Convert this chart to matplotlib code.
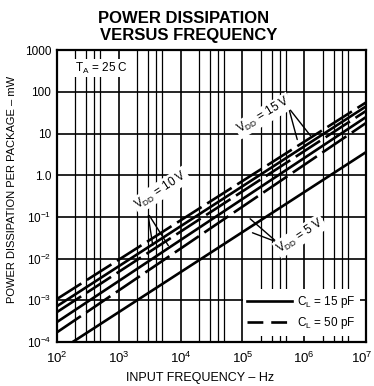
import numpy as np
import matplotlib.pyplot as plt
from matplotlib.ticker import FixedLocator, FixedFormatter, NullFormatter
from matplotlib.lines import Line2D

plt.rcParams['font.family'] = 'Liberation Sans'
plt.rcParams['mathtext.default'] = 'regular'

# line end points (f in Hz, P in mW)
f_lo = [100, 100, 100, 100, 100, 180]
f_hi = [1e7, 1e7, 1e7, 1e7, 1e7, 1e7]
p_lo = [1.07e-3, 7.2e-4, 5.2e-4, 3.0e-4, 1.7e-4, 1e-4]
p_hi = [56, 45, 35, 25, 18, 3.6]
load = ['50', '15', '50', '15', '50', '15']

ytick_vals = [1e-4, 1e-3, 1e-2, 1e-1, 1, 10, 100, 1000]
ytick_txt = ['$10^{-4}$', '$10^{-3}$', '$10^{-2}$', '$10^{-1}$', '1.0', '10', '100', '1000']
xtick_vals = [1e2, 1e3, 1e4, 1e5, 1e6, 1e7]
xtick_txt = ['$10^{2}$', '$10^{3}$', '$10^{4}$', '$10^{5}$', '$10^{6}$', '$10^{7}$']

fig = plt.figure(figsize=(3.74, 3.86), dpi=100)
ax = fig.add_axes([0.152, 0.114, 0.827, 0.756])
ax.set_xscale('log')
ax.set_yscale('log')
ax.set_xlim(1e2, 1e7)
ax.set_ylim(1e-4, 1e3)

# grid: verticals at 1,2,3,4,5 per decade, horizontals at decades
vx = [m * 10.0**k for k in range(2, 7) for m in (2, 3, 4, 5)]
ax.xaxis.set_minor_locator(FixedLocator(vx))
ax.xaxis.set_minor_formatter(NullFormatter())
ax.yaxis.set_minor_locator(FixedLocator([]))
ax.grid(True, which='major', axis='both', color='black', lw=1.2)
ax.grid(True, which='minor', axis='x', color='black', lw=0.9)

ax.yaxis.set_major_locator(FixedLocator(ytick_vals))
ax.yaxis.set_major_formatter(FixedFormatter(ytick_txt))
# last x label is drawn by hand so it stays inside the figure
ax.xaxis.set_major_locator(FixedLocator(xtick_vals))
ax.xaxis.set_major_formatter(FixedFormatter(xtick_txt[:-1] + ['']))
ax.tick_params(which='both', length=0, labelsize=8.5, pad=4)
ax.tick_params(axis='x', labelsize=9.5, pad=6)
ax.annotate(xtick_txt[-1], xy=(xtick_vals[-1], 1e-4), xytext=(-3, -6),
            textcoords='offset points', ha='center', va='top', fontsize=9.5,
            annotation_clip=False)
for s in ax.spines.values():
    s.set_linewidth(1.6)

for i in range(6):
    if load[i] == '50':
        ax.plot([f_lo[i], f_hi[i]], [p_lo[i], p_hi[i]], color='black', lw=1.9,
                dashes=(11, 2.5), solid_capstyle='butt', zorder=3)
    else:
        ax.plot([f_lo[i], f_hi[i]], [p_lo[i], p_hi[i]], color='black', lw=1.9,
                solid_capstyle='butt', zorder=3)

box = dict(facecolor='white', edgecolor='none', pad=1)
ax.text(195, 370, 'T$_A$ = 25 C', fontsize=8.5, va='center', bbox=box, zorder=4)
ax.text(2.2e5, 27, 'V$_{DD}$ = 15 V', fontsize=8.5, rotation=31, ha='center',
        va='center', bbox=box, zorder=4)
ax.text(4.8e3, 0.44, 'V$_{DD}$ = 10 V', fontsize=8.5, rotation=33, ha='center',
        va='center', bbox=box, zorder=4)
ax.text(8.5e5, 0.035, 'V$_{DD}$ = 5 V', fontsize=8.5, rotation=33, ha='center',
        va='center', bbox=box, zorder=4)

# pointer lines from labels to curves
arr = dict(arrowstyle='-', color='black', lw=1.0)
for tip in [(7.9e5, 6.2), (1.35e6, 7.8)]:
    ax.annotate('', xy=tip, xytext=(5.6e5, 41), arrowprops=arr, zorder=4)
for tip in [(3.6e3, 0.018), (6.7e3, 0.018)]:
    ax.annotate('', xy=tip, xytext=(2.96e3, 0.123), arrowprops=arr, zorder=4)
for tip in [(1.23e5, 0.1), (1.32e5, 0.044)]:
    ax.annotate('', xy=tip, xytext=(3.6e5, 0.025), arrowprops=arr, zorder=4)

handles = [Line2D([], [], color='black', lw=1.9),
           Line2D([], [], color='black', lw=1.9, dashes=(6, 3))]
leg = ax.legend(handles, ['C$_L$ = 15 pF', 'C$_L$ = 50 pF'], loc='lower right',
                fontsize=8.5, handlelength=3.8, frameon=True, fancybox=False,
                borderaxespad=0.5, handletextpad=0.4, labelspacing=0.45)
leg.get_frame().set_edgecolor('none')
leg.get_frame().set_facecolor('white')
leg.get_frame().set_alpha(1)
leg.set_zorder(5)

fig.text(0.49, 0.953, 'POWER DISSIPATION', ha='center', va='center',
         fontsize=12, fontweight='bold')
fig.text(0.505, 0.909, 'VERSUS FREQUENCY', ha='center', va='center',
         fontsize=12, fontweight='bold')
fig.text(0.535, 0.021, 'INPUT FREQUENCY \u2013 Hz', ha='center', va='center', fontsize=9)
fig.text(0.032, 0.51, 'POWER DISSIPATION PER PACKAGE \u2013 mW', ha='center', va='center',
         rotation=90, fontsize=8)

plt.savefig('out.png', dpi=100)
